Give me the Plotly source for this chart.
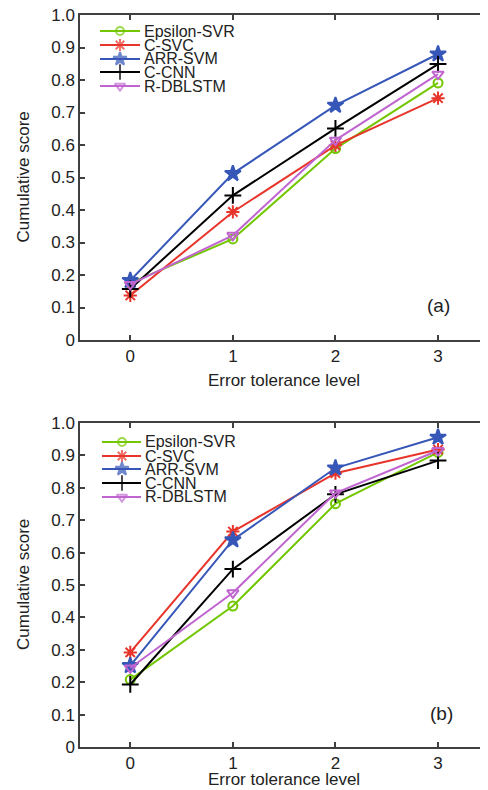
import plotly.graph_objects as go

levels = [0, 1, 2, 3]
series_names = ["Epsilon-SVR", "C-SVC", "ARR-SVM", "C-CNN", "R-DBLSTM"]

# Panel (a)
a_eps = [0.175, 0.311, 0.589, 0.791]
a_csvc = [0.137, 0.394, 0.599, 0.744]
a_arr = [0.183, 0.512, 0.722, 0.880]
a_ccnn = [0.157, 0.445, 0.651, 0.849]
a_rdb = [0.171, 0.322, 0.615, 0.818]

# Panel (b)
b_eps = [0.208, 0.435, 0.751, 0.909]
b_csvc = [0.292, 0.665, 0.845, 0.918]
b_arr = [0.251, 0.639, 0.861, 0.956]
b_ccnn = [0.193, 0.549, 0.780, 0.884]
b_rdb = [0.244, 0.476, 0.784, 0.915]

ytick_vals = [0, 0.1, 0.2, 0.3, 0.4, 0.5, 0.6, 0.7, 0.8, 0.9, 1.0]
ytick_text = ["0", "0.1", "0.2", "0.3", "0.4", "0.5", "0.6", "0.7", "0.8", "0.9", "1.0"]

colors = ["#72C700", "#E8352B", "#3757B8", "#000000", "#C065D0"]
symbols = ["circle-open", "asterisk-open", "star", "cross-thin-open", "triangle-down-open"]
msizes = [9, 11, 12, 12, 10]
leg_sizes = [8, 10, 10, 11, 9]

FONT = "Liberation Sans, Arial, sans-serif"
AX = "#404040"
TXT = "#222222"

# the page body has an 8px margin; the figure is sized so it ends at 488x790
OFF = 8
W, H = 488 - OFF, 790 - OFF
# plot area in page pixels: left 80, right 488, top 15 (a) ... bottom 747 (b)
L, R, T, B = 80 - OFF, 0, 15 - OFF, 790 - 747


def px(x):
    return (x - OFF - L) / (W - L - R)


def py(y):
    return (H - B - (y - OFF)) / (H - T - B)


fig = go.Figure()

panels = [
    ("x", "y", [a_eps, a_csvc, a_arr, a_ccnn, a_rdb]),
    ("x2", "y2", [b_eps, b_csvc, b_arr, b_ccnn, b_rdb]),
]
for xa, ya, data in panels:
    for name, vals, c, s, ms in zip(series_names, data, colors, symbols, msizes):
        fig.add_trace(go.Scatter(
            x=levels, y=vals, mode="lines+markers", name=name, showlegend=False,
            xaxis=xa, yaxis=ya, cliponaxis=False,
            line=dict(color=c, width=2),
            marker=dict(symbol=s, size=ms, color=c, line=dict(color=c, width=2)),
        ))

# custom legends (drawn on a hidden overlay axis spanning the paper)
legend_specs = [
    (100, 140, 120, [31, 45, 59, 72, 86]),
    (102, 141, 122, [442, 456, 469, 483, 497]),
]
for lx0, lx1, lxm, rows in legend_specs:
    for name, c, s, ms, ry in zip(series_names, colors, symbols, leg_sizes, rows):
        fig.add_trace(go.Scatter(
            x=[px(lx0), px(lxm), px(lx1)], y=[py(ry)] * 3,
            mode="lines+markers", showlegend=False, hoverinfo="skip",
            xaxis="x3", yaxis="y3",
            line=dict(color=c, width=2),
            marker=dict(symbol=s, size=[0, ms, 0], color=c, line=dict(color=c, width=2)),
        ))
        fig.add_annotation(
            x=px(lx1 + 2), y=py(ry), xref="paper", yref="paper",
            text=name, showarrow=False, xanchor="left", yanchor="middle",
            font=dict(family=FONT, size=16, color=TXT),
        )

xaxis_common = dict(
    range=[-0.49, 3.487], tickvals=levels, ticks="inside", ticklen=5,
    tickcolor=AX, tickwidth=1.5, showline=True, linecolor=AX, linewidth=1.5,
    mirror="ticks", showgrid=False, zeroline=False, automargin=False,
    ticklabeloverflow="allow",
    tickfont=dict(family=FONT, size=17, color=TXT),
)
yaxis_common = dict(
    range=[0, 1], tickvals=ytick_vals, ticktext=ytick_text, ticks="inside", ticklen=5,
    tickcolor=AX, tickwidth=1.5, showline=True, linecolor=AX, linewidth=1.5,
    mirror="ticks", showgrid=False, zeroline=False, automargin=False,
    ticklabeloverflow="allow",
    tickfont=dict(family=FONT, size=17, color=TXT),
)

top_dom = [py(340), 1.0]
bot_dom = [0.0, py(423)]

fig.update_layout(
    width=W, height=H,
    margin=dict(l=L, r=R, t=T, b=B, pad=0),
    paper_bgcolor="white", plot_bgcolor="rgba(0,0,0,0)",
    showlegend=False,
    xaxis=dict(domain=[0, 1], anchor="y", **xaxis_common),
    yaxis=dict(domain=top_dom, anchor="x", **yaxis_common),
    xaxis2=dict(domain=[0, 1], anchor="y2", **xaxis_common),
    yaxis2=dict(domain=bot_dom, anchor="x2", **yaxis_common),
    xaxis3=dict(domain=[0, 1], anchor="y3", range=[0, 1], visible=False, fixedrange=True),
    yaxis3=dict(domain=[0, 1], anchor="x3", range=[0, 1], visible=False, fixedrange=True),
)

# axis titles and panel labels
for ymid in [(15 + 340) / 2, (423 + 747) / 2]:
    fig.add_annotation(
        x=px(23), y=py(ymid), xref="paper", yref="paper", text="Cumulative score",
        textangle=-90, showarrow=False, xanchor="center", yanchor="middle",
        font=dict(family=FONT, size=17, color=TXT),
    )
for yt in [380, 779]:
    fig.add_annotation(
        x=px(284), y=py(yt), xref="paper", yref="paper", text="Error tolerance level",
        showarrow=False, xanchor="center", yanchor="middle",
        font=dict(family=FONT, size=17, color=TXT),
    )
for lab, lx, ly in [("(a)", 438, 305), ("(b)", 441, 713)]:
    fig.add_annotation(
        x=px(lx), y=py(ly), xref="paper", yref="paper", text=lab,
        showarrow=False, xanchor="center", yanchor="middle",
        font=dict(family=FONT, size=19, color=TXT),
    )

fig.write_html("out.html")
